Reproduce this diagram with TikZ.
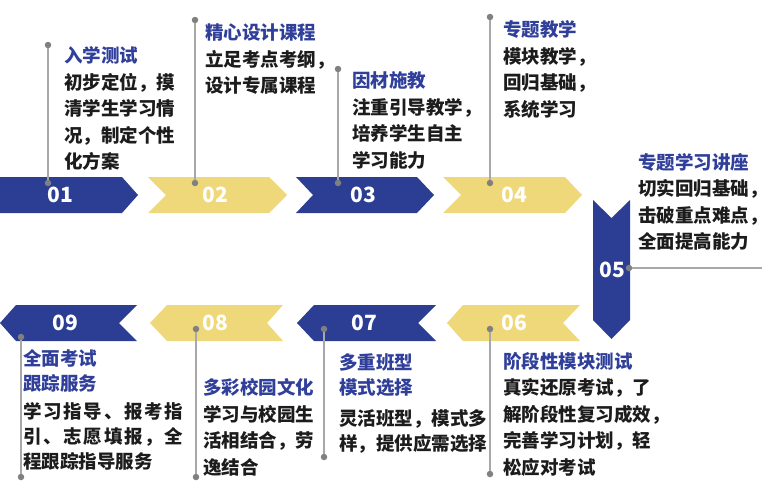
\documentclass[tikz,border=0pt]{standalone}
\usepackage{fontspec}
\setmainfont{Noto Sans CJK SC}
\definecolor{arrowblue}{RGB}{44,62,148}
\definecolor{arrowyellow}{RGB}{238,216,122}
\definecolor{titleblue}{RGB}{48,64,154}
\definecolor{textblack}{RGB}{28,28,28}
\definecolor{linegray}{RGB}{168,168,168}
\definecolor{dotgray}{RGB}{128,128,128}
\newcommand\blockhead[1]{\textcolor{titleblue}{#1}}
\newcommand\spreadline[2]{\makebox[#1][s]{#2}}
\begin{document}
\begin{tikzpicture}[x=1pt,y=-1pt,
  bluechev/.style={fill=arrowblue},
  yellowchev/.style={fill=arrowyellow},
  num/.style={text=white,font=\fontsize{21}{21}\selectfont\bfseries,inner sep=0pt},
  dot/.style={circle,fill=dotgray,inner sep=0pt,minimum size=6.5pt},
  stem/.style={draw=linegray,line width=1.5pt},
  blk/.style={anchor=north west,align=left,inner sep=0pt,text=textblack,
    font=\fontsize{18.5}{26.5}\selectfont\bfseries}]
\useasboundingbox (0,0) rectangle (762,490);
% top row chevrons
\fill[bluechev] (0,177) -- (122,177) -- (138,195) -- (122,213) -- (0,213) -- cycle;
\fill[yellowchev] (148,177) -- (269,177) -- (287,195) -- (269,213) -- (148,213) -- (166,195) -- cycle;
\fill[bluechev] (296,177) -- (417,177) -- (434,195) -- (417,213) -- (296,213) -- (313,195) -- cycle;
\fill[yellowchev] (443,177) -- (565,177) -- (582,195) -- (565,213) -- (443,213) -- (461,195) -- cycle;
% vertical chevron
\fill[bluechev] (593,200) -- (611.5,218) -- (630,200) -- (630,320) -- (611.5,339) -- (593,320) -- cycle;
% bottom row chevrons
\fill[yellowchev] (447,323) -- (463,305) -- (580,305) -- (563,323) -- (580,341) -- (463,341) -- cycle;
\fill[bluechev] (297,323) -- (314,305) -- (436,305) -- (418,323) -- (436,341) -- (314,341) -- cycle;
\fill[yellowchev] (150,323) -- (167,305) -- (283,305) -- (267,323) -- (283,341) -- (167,341) -- cycle;
\fill[bluechev] (0,323) -- (16,305) -- (137,305) -- (119,323) -- (137,341) -- (16,341) -- cycle;
% dots
\node[dot] (d1a) at (48,183) {};  \node[dot] (d1b) at (48,45) {};
\node[dot] (d2a) at (195,183) {}; \node[dot] (d2b) at (195,20) {};
\node[dot] (d3a) at (338,183) {}; \node[dot] (d3b) at (338,69) {};
\node[dot] (d4a) at (490,183) {}; \node[dot] (d4b) at (490,17) {};
\node[dot] (d5a) at (629,268) {}; \coordinate (d5b) at (762,268);
\node[dot] (d6a) at (490,329) {}; \node[dot] (d6b) at (490,474) {};
\node[dot] (d7a) at (324,329) {}; \node[dot] (d7b) at (324,457) {};
\node[dot] (d8a) at (196,329) {}; \node[dot] (d8b) at (196,477) {};
\node[dot] (d9a) at (21,337) {};  \node[dot] (d9b) at (21,477) {};
\foreach \k in {1,2,3,4,5,6,7,8,9}{\draw[stem] (d\k a) -- (d\k b);}
% numbers
\node[num] (n01) at (60,195) {01};
\node[num] (n02) at (215,195) {02};
\node[num] (n03) at (363,195) {03};
\node[num] (n04) at (514,195) {04};
\node[num] (n05) at (612,270) {05};
\node[num] (n06) at (514,323) {06};
\node[num] (n07) at (364,323) {07};
\node[num] (n08) at (215,323) {08};
\node[num] (n09) at (65,323) {09};
% text blocks
\node[blk] (blk1) at (64,46.7) {\blockhead{入学测试}\\初步定位，摸\\清学生学习情\\况，制定个性\\化方案};
\node[blk] (blk2) at (205,23.7) {\blockhead{精心设计课程}\\立足考点考纲，\\设计专属课程};
\node[blk] (blk3) at (352,71.7) {\blockhead{因材施教}\\注重引导教学，\\培养学生自主\\学习能力};
\node[blk] (blk4) at (503,20.7) {\blockhead{专题教学}\\模块教学，\\回归基础，\\系统学习};
\node[blk] (blk5) at (638,152.7) {\blockhead{专题学习讲座}\\切实回归基础，\\击破重点难点，\\全面提高能力};
\node[blk] (blk6) at (503,351.7) {\blockhead{阶段性模块测试}\\真实还原考试，了\\解阶段性复习成效，\\完善学习计划，轻\\松应对考试};
\node[blk,font=\fontsize{18.5}{24.5}\selectfont\bfseries] (blk7) at (339,353.7) {\blockhead{多重班型}\\\blockhead{模式选择}\\[7pt]灵活班型，模式多\\样，提供应需选择};
\node[blk] (blk8) at (203,378.7) {\blockhead{多彩校园文化}\\学习与校园生\\活相结合，劳\\逸结合};
\node[blk,font=\fontsize{18.5}{25}\selectfont\bfseries] (blk9) at (23,349.7) {\blockhead{全面考试}\\\blockhead{跟踪服务}\\[3pt]\spreadline{160pt}{学\hfil 习\hfil 指\hfil 导\hfil 、\hfil 报\hfil 考\hfil 指}\\\spreadline{160pt}{引\hfil 、\hfil 志\hfil 愿\hfil 填\hfil 报\hfil ，\hfil 全}\\程跟踪指导服务};
\end{tikzpicture}
\end{document}
